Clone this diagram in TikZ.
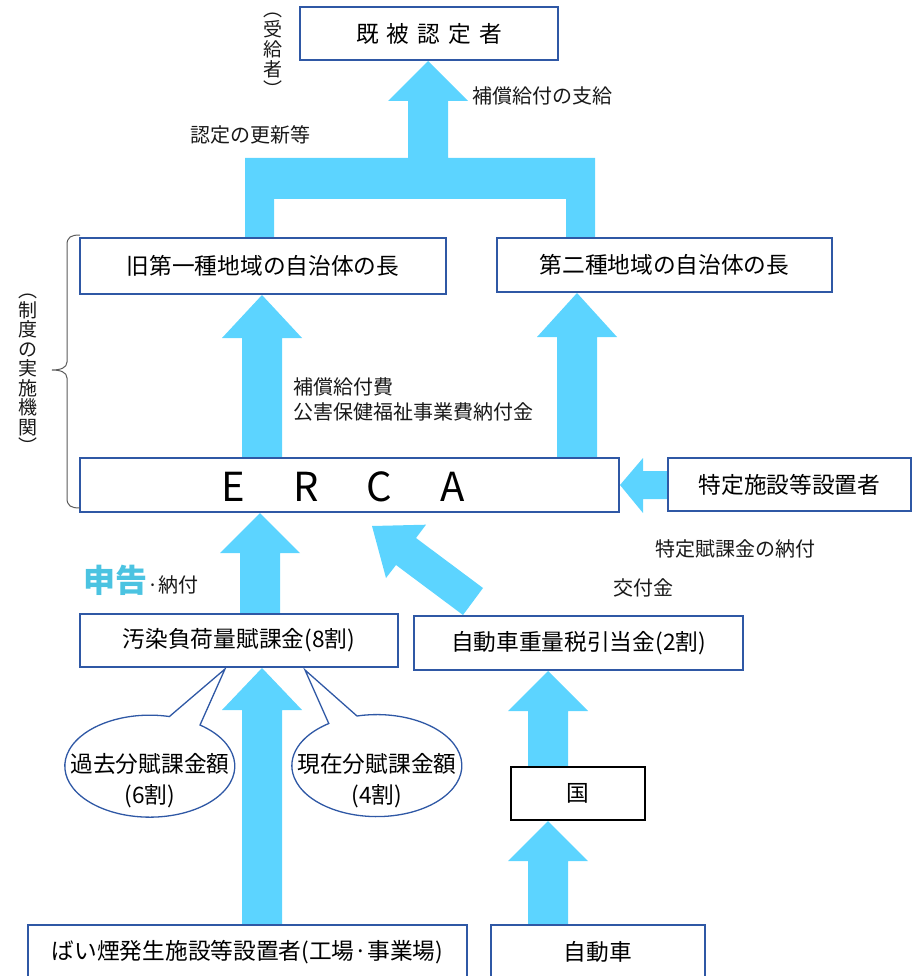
\documentclass[tikz,border=0pt]{standalone}
\usepackage{fontspec}
\setmainfont{Noto Sans CJK JP}
\definecolor{bord}{RGB}{47,88,165}
\definecolor{arw}{RGB}{92,212,255}
\definecolor{sk}{RGB}{75,195,225}
\definecolor{lbl}{RGB}{25,25,25}
\definecolor{brc}{RGB}{90,90,90}
\tikzset{
  box/.style={draw=bord, line width=1.5pt, fill=white, inner sep=0pt,
    font=\fontsize{22.7}{26}\selectfont, text=black},
  kbox/.style={box, draw=black},
  arrowfill/.style={fill=arw},
  lab/.style={font=\fontsize{20}{25}\selectfont, text=lbl, inner sep=0pt, anchor=west},
  callout/.style={draw=bord, line width=1.3pt, fill=white},
  vtext/.style={align=center, inner sep=0pt, text=lbl},
}
\newcommand{\uparr}[4]{% cx, tip y, head base y, bottom y
  \fill[arrowfill] (#1,#2) -- (#1+40,#3) -- (#1+20,#3) -- (#1+20,#4) -- (#1-20,#4) -- (#1-20,#3) -- (#1-40,#3) -- cycle;}
\begin{document}
\begin{tikzpicture}[x=1pt,y=-1pt]
\useasboundingbox (0,0) rectangle (921,976);

% ---------- block arrows ----------
\fill[arrowfill] (428,61) -- (468,101) -- (448,101) -- (448,158) -- (595,158) -- (595,239)
  -- (566,239) -- (566,199) -- (274,199) -- (274,239) -- (245,239) -- (245,158)
  -- (408,158) -- (408,101) -- (388,101) -- cycle;
\uparr{262}{295}{338}{459}
\uparr{577}{293}{337}{459}
\uparr{260}{513}{553}{615}
\uparr{262}{668}{710}{926}
\uparr{548}{671}{711}{768}
\uparr{548}{821}{861}{926}
% diagonal arrow
\fill[arrowfill] (372,526) -- (426,524.7) -- (416,538) -- (483,588) -- (463,615)
  -- (396,565) -- (386,578) -- cycle;
% leftward arrow
\fill[arrowfill] (620,485) -- (643,458) -- (643,471) -- (669,471) -- (669,499)
  -- (643,499) -- (643,513) -- cycle;

% ---------- boxes ----------
\node[box, minimum width=258pt, minimum height=53pt] (kinin) at (429,33.5)
  {既\hspace{8pt}被\hspace{8pt}認\hspace{8pt}定\hspace{8pt}者};
\node[box, minimum width=366pt, minimum height=56pt] (kyu) at (263,266) {旧第一種地域の自治体の長};
\node[box, minimum width=335pt, minimum height=54pt] (dai2) at (664.5,265) {第二種地域の自治体の長};
\node[box, minimum width=539pt, minimum height=54pt] (erca) at (349.5,485) {};
\node[inner sep=0pt, font=\fontsize{40}{40}\selectfont] (ercatext) at (343,487)
  {\makebox[73pt]{E}\makebox[73pt]{R}\makebox[73pt]{C}\makebox[73pt]{A}};
\node[box, minimum width=243pt, minimum height=53pt] (tokutei) at (789.5,484.5) {特定施設等設置者};
\node[box, minimum width=318pt, minimum height=53pt] (osen) at (239,640.5) {汚染負荷量賦課金(8割)};
\node[box, minimum width=329pt, minimum height=54pt] (jyuryo) at (578.5,643) {自動車重量税引当金(2割)};
\node[kbox, minimum width=134pt, minimum height=53pt] (kuni) at (578,793.5) {国};
\node[box, minimum width=439pt, minimum height=54pt] (baien) at (247.5,952) {ばい煙発生施設等設置者(工場·事業場)};
\node[box, minimum width=214pt, minimum height=54pt] (jidosha) at (598,952) {自動車};

% ---------- callouts ----------
\filldraw[callout] (170,716) -- (225,669) -- (200,725)
  arc[start angle=53.8, end angle=-283.5, x radius=85pt, y radius=51pt] -- cycle;
\filldraw[callout] (329,724) -- (305,670) -- (357,716)
  arc[start angle=103.5, end angle=-235.6, x radius=85pt, y radius=51pt] -- cycle;
\node[align=center, inner sep=0pt, font=\fontsize{22.7}{31}\selectfont] (kako) at (150,781)
  {過去分賦課金額\\(6割)};
\node[align=center, inner sep=0pt, font=\fontsize{22.7}{31}\selectfont] (genzai) at (377,781)
  {現在分賦課金額\\(4割)};

% ---------- labels ----------
\node[lab] (l1) at (472,96) {補償給付の支給};
\node[lab] (l2) at (190,135) {認定の更新等};
\node[lab, align=left] (l3) at (293,399) {補償給付費\\公害保健福祉事業費納付金};
\node[lab] (l4) at (655,549) {特定賦課金の納付};
\node[lab] (l5) at (613,588) {交付金};
\node[lab] (l6) at (83,580) {{\color{sk}\bfseries\fontsize{32}{32}\selectfont 申告}·納付};

% ---------- vertical texts and brace ----------
\node[vtext, font=\fontsize{19}{20}\selectfont] (jukyu) at (273,57) {\smash{︵}\\受\\給\\者\\︶};
\node[vtext, font=\fontsize{19}{19.5}\selectfont] (seido) at (28,374) {︵\\制\\度\\の\\実\\施\\機\\関\\︶};
\draw[brc, line width=1pt] (80,235) .. controls (71,235) and (67,237) .. (67,245) -- (67,362)
  .. controls (67,368) and (60,370) .. (52,370) .. controls (60,370) and (67,372) .. (67,378)
  -- (67,498) .. controls (67,506) and (71,508) .. (80,508);
\end{tikzpicture}
\end{document}
